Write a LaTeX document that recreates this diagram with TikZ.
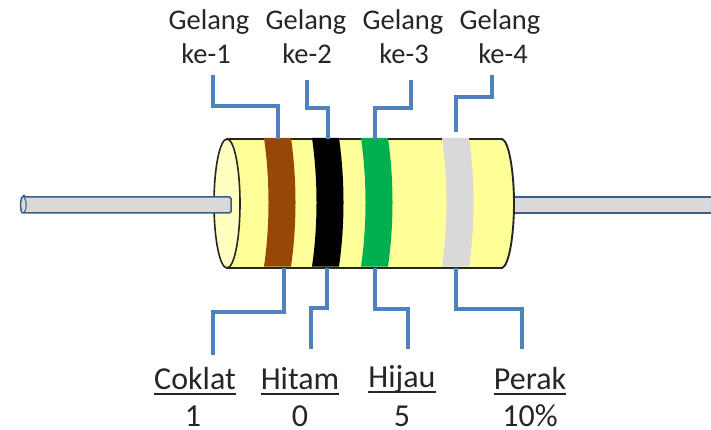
\documentclass[tikz,border=0pt]{standalone}
\usepackage{fontspec}
\setmainfont{Carlito}
\definecolor{bodyc}{HTML}{FFFF99}
\definecolor{capc}{HTML}{FFFFC1}
\definecolor{brownc}{HTML}{974706}
\definecolor{greenc}{HTML}{00B050}
\definecolor{grayc}{HTML}{D9D9D9}
\definecolor{linkc}{HTML}{4F81BD}
\definecolor{leadc}{HTML}{385D8A}
\definecolor{outc}{HTML}{262626}
\newcommand\ulbl[1]{\setbox0\hbox{#1}\rlap{\rule[-5.5pt]{\wd0}{1.6pt}}\box0}
\tikzset{
  lead/.style={draw=leadc,fill=grayc,line width=1.5pt},
  link/.style={draw=linkc,line width=3.6pt},
  toplbl/.style={font=\fontsize{28.5}{32}\selectfont,text=black!85,inner sep=0pt,anchor=base},
  botlbl/.style={font=\fontsize{32}{36}\selectfont,text=black!85,inner sep=0pt,anchor=base},
  band/.style={line width=0pt}
}
\newcommand\bandshape[2]{\fill[#2,band] (#1,138) .. controls (#1+6,180) and (#1+6,225) .. (#1,266.5) -- (#1+27,266.5) .. controls (#1+33,225) and (#1+33,180) .. (#1+27,138) -- cycle;}
\begin{document}
\begin{tikzpicture}[x=1pt,y=-1pt]
\useasboundingbox (0,0) rectangle (711,430);
% right lead
\draw[lead] (505,197) -- (713,197) -- (713,213) -- (505,213) -- cycle;
% body
\draw[fill=bodyc,draw=outc,line width=1.9pt] (227,139) -- (502,139) .. controls (509,141) and (514,172) .. (514,203.5) .. controls (514,235) and (509,266) .. (502,268) -- (227,268) -- cycle;
\draw[fill=capc,draw=outc,line width=1.6pt] (227,203.5) ellipse [x radius=13, y radius=64.5];
% bands
\bandshape{264}{brownc}
\bandshape{312}{black}
\bandshape{361}{greenc}
\bandshape{442}{grayc}
% left lead
\draw[lead,rounded corners=1.5pt] (24,197) -- (231,197) -- (231,213) -- (24,213) .. controls (20,213) and (20,197) .. (24,197) -- cycle;
\draw[leadc,line width=1pt] (24,197) .. controls (27,201) and (27,209) .. (24,213);
% labels
\node[toplbl] (g1a) at (209,30) {Gelang};
\node[toplbl] (g1b) at (206,64) {ke-1};
\node[toplbl] (g2a) at (306,30) {Gelang};
\node[toplbl] (g2b) at (307,64) {ke-2};
\node[toplbl] (g3a) at (403,30) {Gelang};
\node[toplbl] (g3b) at (404,64) {ke-3};
\node[toplbl] (g4a) at (500,30) {Gelang};
\node[toplbl] (g4b) at (503,64) {ke-4};
\node[botlbl] (c1) at (195,389) {\ulbl{Coklat}};
\node[botlbl] (v1) at (193,426.5) {1};
\node[botlbl] (c2) at (300,389) {\ulbl{Hitam}};
\node[botlbl] (v2) at (300,426.5) {0};
\node[botlbl] (c3) at (402,387) {\ulbl{Hijau}};
\node[botlbl] (v3) at (402,426.5) {5};
\node[botlbl] (c4) at (530,389) {\ulbl{Perak}};
\node[botlbl] (v4) at (530,426.5) {10\%};
% connector ends
\coordinate (t1) at (213,75);  \coordinate (b1t) at (278,139);
\coordinate (t2) at (307,80);  \coordinate (b2t) at (328,139);
\coordinate (t3) at (411,80);  \coordinate (b3t) at (375,139);
\coordinate (t4) at (492,75);  \coordinate (b4t) at (456,132);
\coordinate (d1) at (213,355); \coordinate (b1b) at (284,268);
\coordinate (d2) at (311,349); \coordinate (b2b) at (327,268);
\coordinate (d3) at (408,349); \coordinate (b3b) at (375,268);
\coordinate (d4) at (522,349); \coordinate (b4b) at (456,268);
% connectors
\draw[link] (t1) |- (245,106) -| (b1t);
\draw[link] (t2) |- (318,108) -| (b2t);
\draw[link] (t3) |- (393,108) -| (b3t);
\draw[link] (t4) |- (474,97) -| (b4t);
\draw[link] (b1b) |- (250,312) -| (d1);
\draw[link] (b2b) |- (319,308) -| (d2);
\draw[link] (b3b) |- (391,309) -| (d3);
\draw[link] (b4b) |- (489,309) -| (d4);
\end{tikzpicture}
\end{document}
